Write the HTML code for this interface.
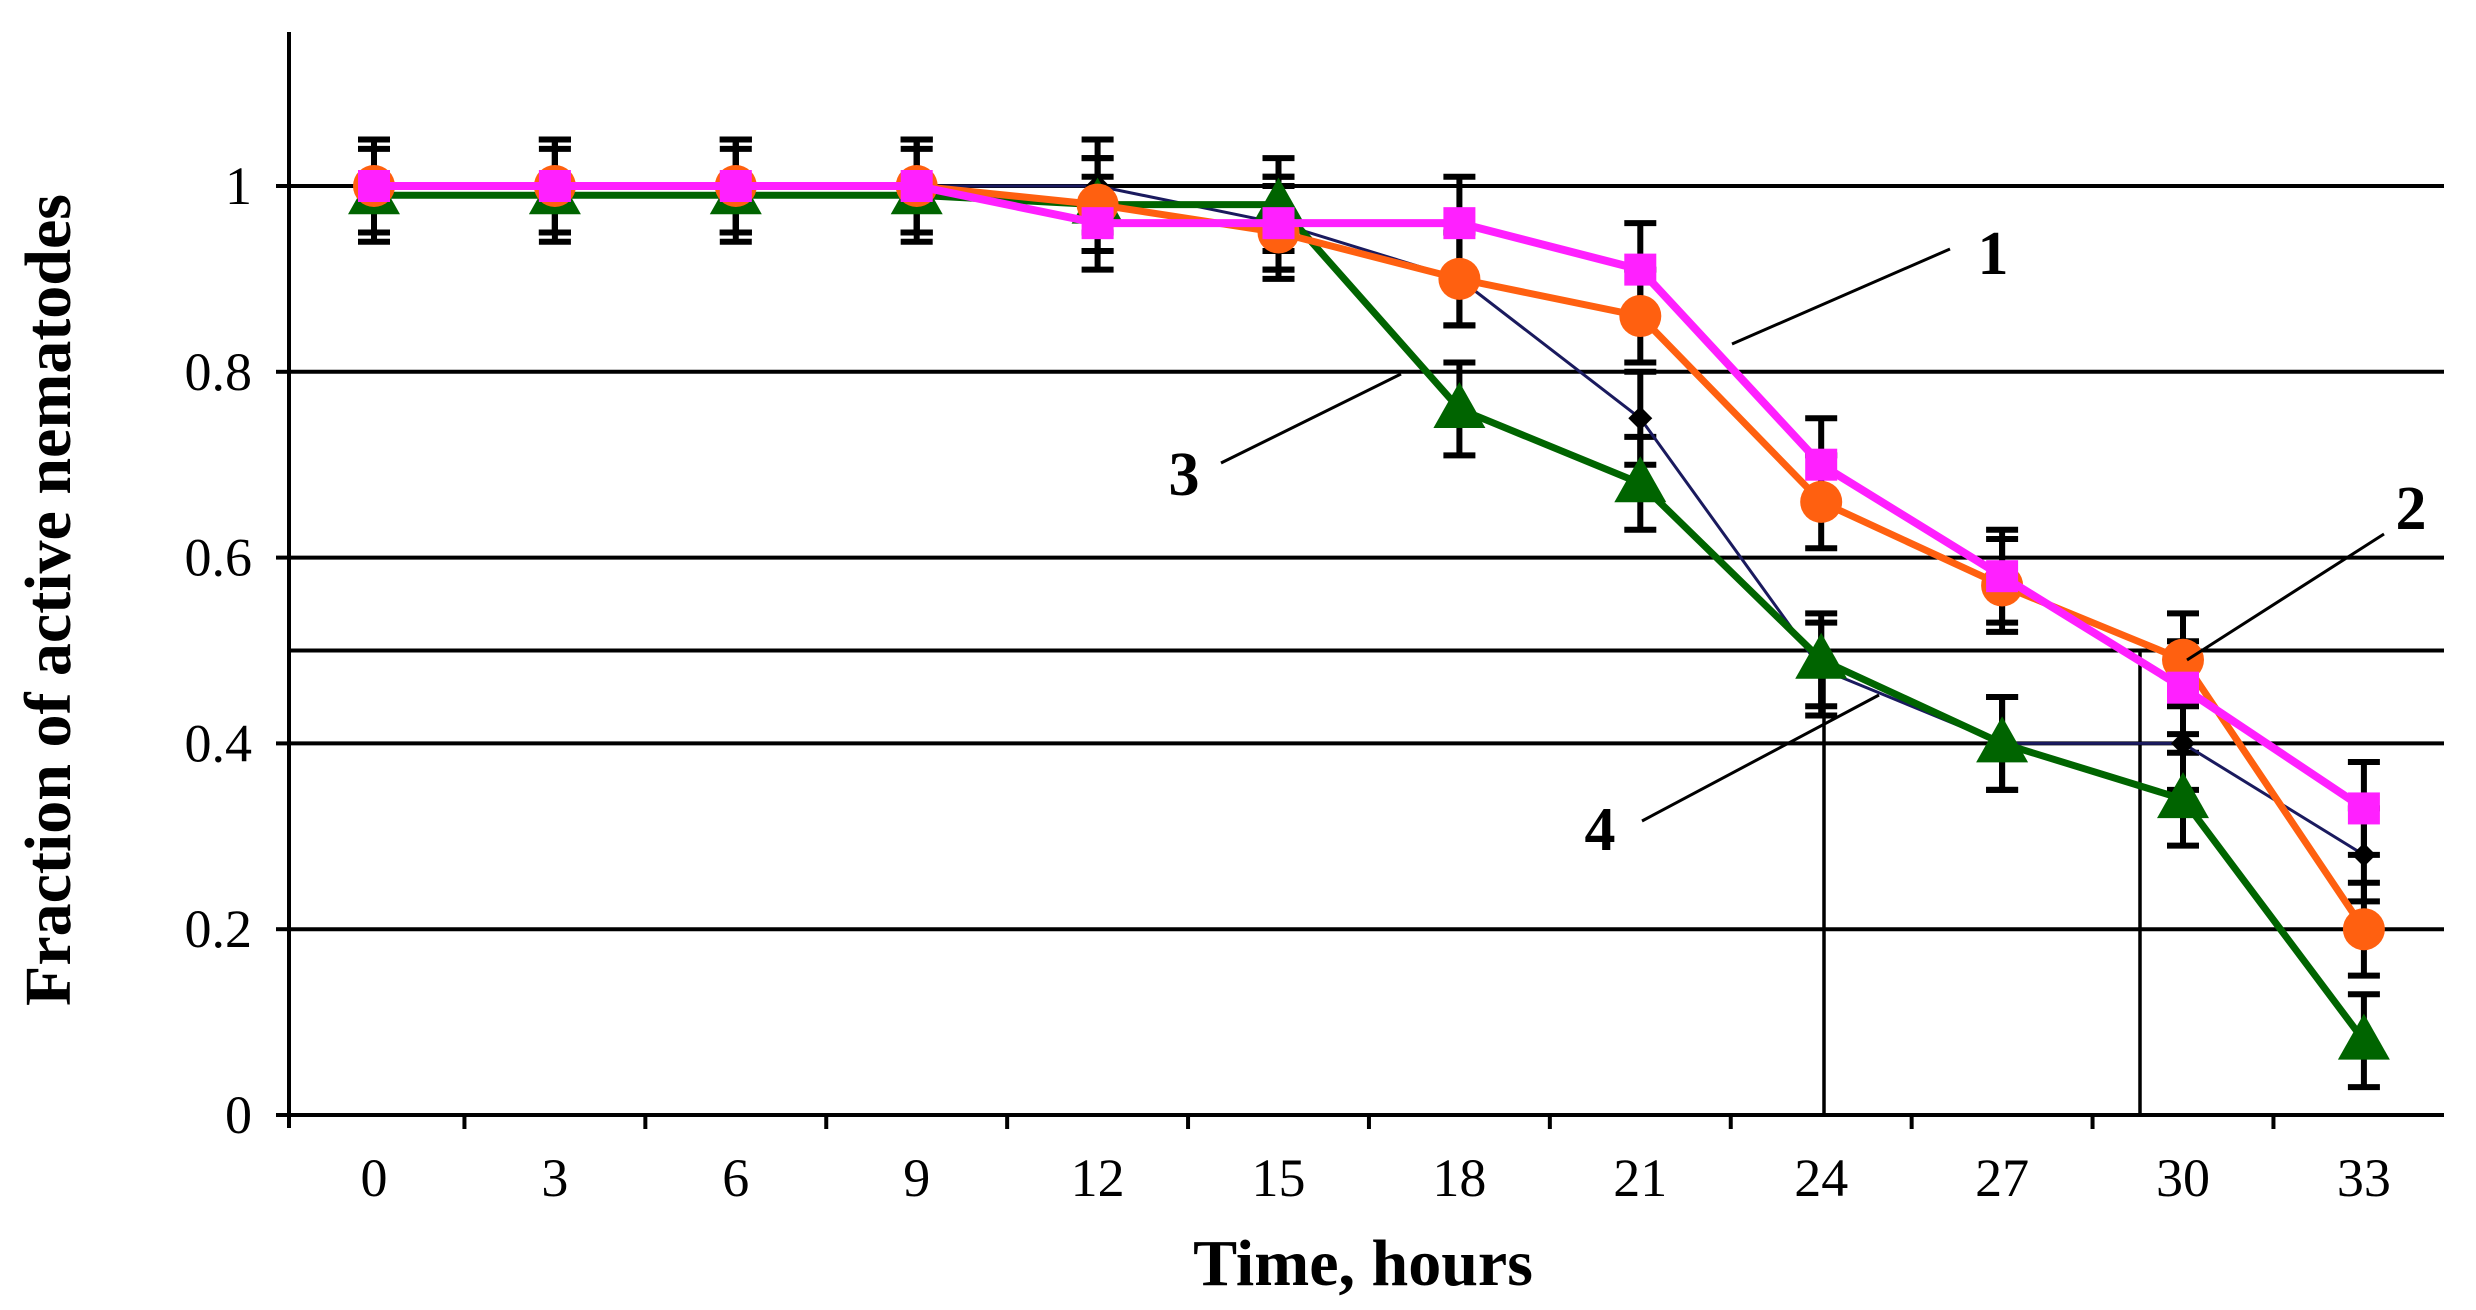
<!DOCTYPE html>
<html><head><meta charset="utf-8"><style>
html,body{margin:0;padding:0;background:#fff;}
svg{display:block;}
text{font-family:"Liberation Serif",serif;}
</style></head><body>
<svg id="s" width="2476" height="1310" viewBox="0 0 2476 1310" xmlns="http://www.w3.org/2000/svg">
<rect width="2476" height="1310" fill="#fff"/>
<g id="g"></g>
<text x="55" y="600" transform="rotate(-90 55 600)" text-anchor="middle" dominant-baseline="middle" font-size="66" font-weight="bold">Fraction of active nematodes</text>
<text x="1363" y="1285" text-anchor="middle" font-size="66" font-weight="bold">Time, hours</text>
<g font-size="62" font-weight="bold" text-anchor="middle">
<text x="1993" y="274">1</text>
<text x="2411" y="529">2</text>
<text x="1184" y="495">3</text>
<text x="1600" y="850">4</text>
</g>
<g stroke="#000" stroke-width="3">
<line x1="1732" y1="344" x2="1950" y2="249"/>
<line x1="2187" y1="660" x2="2384" y2="534"/>
<line x1="1221" y1="463" x2="1401" y2="374"/>
<line x1="1642" y1="821" x2="1879" y2="695"/>
</g>
</svg>
<script>
var g=document.getElementById('g'),h='';
var X0=374,DX=180.9,Y0=1115,Y1=186;
function X(i){return X0+i*DX;} function Y(v){return Y0-(Y0-Y1)*v;}
[0.2,0.4,0.5,0.6,0.8,1].forEach(function(v){h+='<line x1="289" x2="2444" y1="'+Y(v)+'" y2="'+Y(v)+'" stroke="#000" stroke-width="4"/>';});
h+='<line x1="289" y1="32" x2="289" y2="1128" stroke="#000" stroke-width="4"/>';
h+='<line x1="276" y1="1115" x2="2444" y2="1115" stroke="#000" stroke-width="4"/>';
[0,0.2,0.4,0.6,0.8,1].forEach(function(v){h+='<line x1="276" x2="289" y1="'+Y(v)+'" y2="'+Y(v)+'" stroke="#000" stroke-width="4"/>';
h+='<text x="252" y="'+(Y(v)+18)+'" text-anchor="end" font-size="54">'+(v==1?'1':v==0?'0':v)+'</text>';});
for(var k=0;k<12;k++){var bx=X0-DX/2+k*DX; if(k>0)h+='<line x1="'+bx+'" x2="'+bx+'" y1="1115" y2="1129" stroke="#000" stroke-width="4"/>';
h+='<text x="'+X(k)+'" y="1196" text-anchor="middle" font-size="54">'+(k*3)+'</text>';}
h+='<line x1="1824" x2="1824" y1="'+Y(0.5)+'" y2="1115" stroke="#000" stroke-width="3.5"/>';
h+='<line x1="2140" x2="2140" y1="'+Y(0.5)+'" y2="1115" stroke="#000" stroke-width="3.5"/>';
var s4=[1,1,1,1,1,0.96,0.90,0.75,0.48,0.40,0.40,0.28];
var s3=[0.99,0.99,0.99,0.99,0.98,0.98,0.76,0.68,0.49,0.40,0.34,0.08];
var s2=[1,1,1,1,0.98,0.95,0.90,0.86,0.66,0.57,0.49,0.20];
var s1=[1,1,1,1,0.96,0.96,0.96,0.91,0.70,0.58,0.46,0.33];
function eb(s){s.forEach(function(v,i){var x=X(i),a=Y(v+0.05),b=Y(v-0.05);
h+='<path d="M'+x+' '+a+'V'+b+'M'+(x-16)+' '+a+'H'+(x+16)+'M'+(x-16)+' '+b+'H'+(x+16)+'" stroke="#000" stroke-width="6" fill="none"/>';});}
function line(s,c,w){h+='<polyline fill="none" stroke="'+c+'" stroke-width="'+w+'" points="'+s.map(function(v,i){return X(i)+','+Y(v);}).join(' ')+'"/>';}
[s4,s3,s2,s1].forEach(eb);
line(s4,'#1a1a5e',3);
s4.forEach(function(v,i){var x=X(i),y=Y(v);h+='<path d="M'+x+' '+(y-12)+'L'+(x+12)+' '+y+'L'+x+' '+(y+12)+'L'+(x-12)+' '+y+'Z" fill="#000"/>';});
line(s3,'#006400',7);
s3.forEach(function(v,i){var x=X(i),y=Y(v);h+='<path d="M'+x+' '+(y-27)+'L'+(x+26)+' '+(y+19)+'L'+(x-26)+' '+(y+19)+'Z" fill="#006400"/>';});
line(s2,'#ff6010',7);
s2.forEach(function(v,i){h+='<circle cx="'+X(i)+'" cy="'+Y(v)+'" r="21" fill="#ff6010"/>';});
line(s1,'#ff20ff',8);
s1.forEach(function(v,i){h+='<rect x="'+(X(i)-16)+'" y="'+(Y(v)-16)+'" width="32" height="32" fill="#ff20ff"/>';});
g.innerHTML=h;
</script>
</body></html>
